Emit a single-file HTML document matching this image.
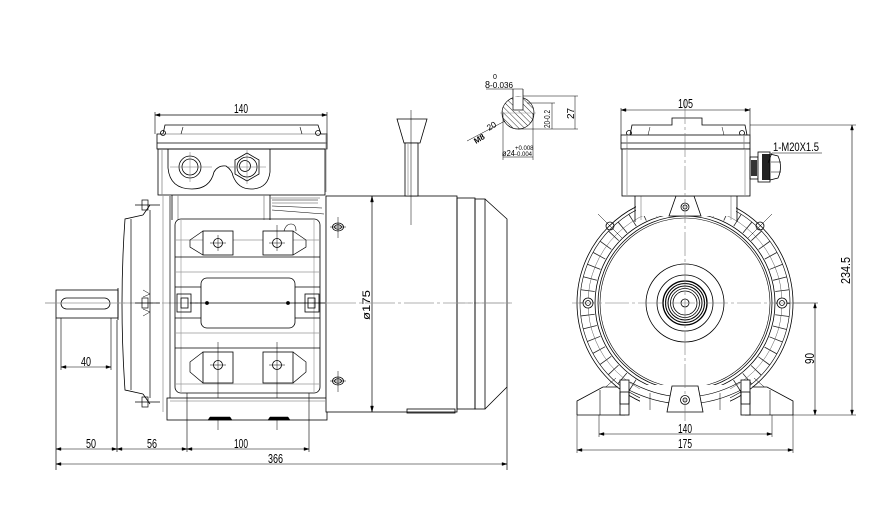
<!DOCTYPE html>
<html><head><meta charset="utf-8"><style>
html,body{margin:0;padding:0;background:#fff}
svg{display:block}
text{font-family:"Liberation Sans Narrow","Liberation Sans",sans-serif;fill:#000}
</style></head><body>
<svg width="879" height="513" viewBox="0 0 879 513" xmlns="http://www.w3.org/2000/svg">
<defs>
<pattern id="hatch" width="4" height="4" patternUnits="userSpaceOnUse" patternTransform="rotate(-45)">
<line x1="0" y1="0" x2="0" y2="4" stroke="#000" stroke-width="0.8"/>
</pattern>
<clipPath id="sec"><circle cx="518" cy="113" r="16"/></clipPath>
</defs>
<rect width="879" height="513" fill="#fff"/>

<!-- ============ LEFT (SIDE) VIEW ============ -->
<g fill="none" stroke="#000" stroke-width="0.8">
<line x1="45" y1="303" x2="513" y2="303" stroke="#999" stroke-dasharray="30 3 3 3"/>

<!-- 140 dim -->
<line x1="155" y1="115" x2="327" y2="115" stroke-width="0.7"/>
<line x1="155" y1="112" x2="155" y2="134" stroke-width="0.6"/>
<line x1="327" y1="112" x2="327" y2="134" stroke-width="0.6"/>
<!-- terminal box lid -->
<path d="M157 149 L157 134 L163 134 L165 125 L318 125 L321 134 L327 134 L327 149 Z"/>
<line x1="157" y1="143" x2="327" y2="143"/>
<line x1="163" y1="134" x2="321" y2="134" stroke="#888"/>
<line x1="183" y1="127" x2="181" y2="134" stroke-width="0.6"/>
<line x1="300" y1="127" x2="302" y2="134" stroke-width="0.6"/>
<circle cx="163" cy="133" r="2.5"/><circle cx="318" cy="133" r="2.5"/>
<!-- box body -->
<rect x="158" y="149" width="167" height="46"/>
<line x1="162" y1="149" x2="162" y2="195" stroke="#888"/>
<line x1="326" y1="135" x2="326" y2="192" stroke="#888"/>
<path d="M168 149 V168 Q170 189 192 189 Q210 189 214 172 Q218 165 226 166 Q232 170 233 176 Q238 189 251 189 Q268 189 270 172 V149"/>
<circle cx="190" cy="167" r="11"/><circle cx="190" cy="167" r="8"/>
<line x1="170" y1="167" x2="212" y2="167" stroke="#777" stroke-width="0.5"/>
<line x1="190" y1="152" x2="190" y2="182" stroke="#777" stroke-width="0.5"/>
<polygon points="247,153 259,160 259,174 247,181 235,174 235,160"/>
<circle cx="247" cy="167" r="10"/><circle cx="245" cy="166" r="5.5"/>
<line x1="228" y1="167" x2="266" y2="167" stroke="#777" stroke-width="0.5"/>
<line x1="247" y1="150" x2="247" y2="184" stroke="#777" stroke-width="0.5"/>
<!-- neck -->
<line x1="172" y1="195" x2="172" y2="220"/>
<line x1="178" y1="195" x2="178" y2="220" stroke="#888"/>
<line x1="270" y1="195" x2="270" y2="220"/>
<line x1="264" y1="195" x2="264" y2="220" stroke="#888"/>
<line x1="270" y1="198" x2="320" y2="198" stroke="#888"/>
<line x1="272" y1="200" x2="318" y2="200" stroke-width="0.6"/>
<line x1="272" y1="203" x2="318" y2="203" stroke="#888"/>
<line x1="272" y1="206" x2="322" y2="208" stroke-width="0.6"/>
<line x1="272" y1="210" x2="324" y2="214" stroke-width="0.6"/>
<line x1="326" y1="196" x2="326" y2="412" stroke="#999"/>

<!-- left shield -->
<path d="M143 215 L125 219 Q119 303 125 390 L143 394"/>
<line x1="131" y1="219" x2="131" y2="390" stroke-width="0.7"/>
<line x1="150" y1="210" x2="150" y2="398" stroke-width="0.7"/>
<line x1="163" y1="196" x2="163" y2="412" stroke="#999"/>
<line x1="170" y1="196" x2="170" y2="412" stroke-width="0.7"/>
<line x1="143" y1="215" x2="150" y2="205"/>
<line x1="143" y1="394" x2="150" y2="404"/>
<g stroke-width="0.7">
<rect x="142" y="200" width="6" height="10"/><line x1="135" y1="205" x2="160" y2="205"/>
<rect x="142" y="298" width="6" height="10"/><line x1="135" y1="303" x2="160" y2="303"/>
<rect x="142" y="397" width="6" height="10"/><line x1="135" y1="402" x2="160" y2="402"/>
<path d="M143 290 L150 294 L143 297" stroke-width="0.5"/>
<path d="M143 309 L150 312 L143 316" stroke-width="0.5"/>
</g>

<!-- frame -->
<rect x="175" y="219" width="145" height="174" rx="6"/>
<line x1="181" y1="219" x2="181" y2="393" stroke="#aaa"/>
<line x1="314" y1="219" x2="314" y2="393" stroke="#aaa"/>
<g stroke-width="0.7">
<line x1="175" y1="240" x2="320" y2="240" stroke="#999"/>
<line x1="175" y1="257" x2="320" y2="257"/>
<line x1="175" y1="272" x2="320" y2="272" stroke="#999"/>
<line x1="175" y1="287" x2="320" y2="287"/>
<line x1="175" y1="318" x2="320" y2="318"/>
<line x1="175" y1="333" x2="320" y2="333" stroke="#999"/>
<line x1="175" y1="348" x2="320" y2="348"/>
<line x1="175" y1="384" x2="320" y2="384" stroke="#999"/>
</g>
<!-- mount blocks top -->
<rect x="203" y="231" width="30" height="24" fill="#fff"/>
<rect x="263" y="231" width="30" height="24" fill="#fff"/>
<path d="M203 231 L190 240 L190 247 L203 255" stroke-width="0.7"/><path d="M293 231 L306 240 L306 247 L293 255" stroke-width="0.7"/>
<circle cx="218" cy="243" r="4.5"/><circle cx="277" cy="243" r="4.5"/>
<line x1="210" y1="243" x2="226" y2="243" stroke-width="0.5"/><line x1="218" y1="235" x2="218" y2="251" stroke-width="0.5"/>
<line x1="269" y1="243" x2="285" y2="243" stroke-width="0.5"/><line x1="277" y1="225" x2="277" y2="251" stroke-width="0.5"/>
<path d="M284 231 Q286 224 291 224 Q296 224 296 231" stroke-width="0.6"/>
<!-- mount blocks bottom -->
<rect x="203" y="352" width="30" height="31" fill="#fff"/>
<rect x="263" y="352" width="30" height="31" fill="#fff"/>
<path d="M203 352 L190 362 L190 372 L203 383" stroke-width="0.7"/><path d="M293 352 L306 362 L306 372 L293 383" stroke-width="0.7"/>
<circle cx="218" cy="365" r="4.5"/><circle cx="277" cy="365" r="4.5"/>
<line x1="210" y1="365" x2="226" y2="365" stroke-width="0.5"/>
<line x1="269" y1="365" x2="285" y2="365" stroke-width="0.5"/>
<line x1="218" y1="342" x2="218" y2="430" stroke-width="0.5"/>
<line x1="277" y1="342" x2="277" y2="430" stroke-width="0.5"/>
<!-- center terminal plate -->
<rect x="201" y="278" width="94" height="50" rx="6" fill="#fff"/>
<line x1="205" y1="303" x2="290" y2="303"/>
<circle cx="207" cy="303" r="1.5" fill="#000"/><circle cx="288" cy="303" r="1.5" fill="#000"/>
<!-- side brackets -->
<rect x="177" y="294" width="14" height="18"/><rect x="181" y="298" width="7" height="10"/>
<rect x="305" y="294" width="14" height="18"/><rect x="308" y="298" width="7" height="10"/>
<line x1="190" y1="303" x2="205" y2="303"/><line x1="290" y1="303" x2="325" y2="303"/>
<!-- feet -->
<rect x="167" y="398" width="160" height="22" fill="#fff"/>
<line x1="170" y1="401" x2="325" y2="401" stroke="#999"/>
<path d="M208 420 L210 417 L230 417 L232 420 Z" fill="#000" stroke-width="0.5"/>
<path d="M268 420 L270 417 L288 417 L290 420 Z" fill="#000" stroke-width="0.5"/>
<line x1="187" y1="393" x2="187" y2="452" stroke-width="0.6"/>
<line x1="309" y1="393" x2="309" y2="452" stroke-width="0.6"/>

<!-- right cylinder (fan cover) -->
<rect x="326" y="196" width="131" height="216" fill="#fff"/>
<line x1="372" y1="196" x2="372" y2="412" stroke-width="0.7"/>
<path d="M370.5 202 L372 196 L373.5 202 Z M370.5 406 L372 412 L373.5 406 Z" fill="#000" stroke-width="0.4"/>
<rect x="457" y="198" width="18" height="211"/>
<rect x="475" y="199" width="10" height="210"/>
<path d="M485 199 L507 219 L507 387 L485 409"/>
<line x1="326" y1="303" x2="513" y2="303" stroke="#999" stroke-dasharray="30 3 3 3"/>
<rect x="407" y="409" width="48" height="4"/>
<ellipse cx="338" cy="227" rx="5.5" ry="4"/><ellipse cx="338" cy="227" rx="3.5" ry="2.2"/>
<line x1="330" y1="227" x2="346" y2="227" stroke-width="0.5"/><line x1="338" y1="217" x2="338" y2="238" stroke-width="0.5"/>
<ellipse cx="338" cy="381" rx="5.5" ry="4"/><ellipse cx="338" cy="381" rx="3.5" ry="2.2"/>
<line x1="330" y1="381" x2="346" y2="381" stroke-width="0.5"/><line x1="338" y1="371" x2="338" y2="392" stroke-width="0.5"/>
<!-- lifting bolt -->
<polygon points="397,119 427,119 420,143 404,143" fill="#fff"/>
<rect x="405" y="143" width="13" height="53" fill="#fff"/>
<line x1="408" y1="143" x2="408" y2="196" stroke="#999"/>
<line x1="411" y1="110" x2="411" y2="225" stroke-width="0.5"/>

<!-- shaft -->
<rect x="56" y="290" width="62" height="28" fill="#fff"/>
<rect x="61" y="298" width="49" height="11" rx="5.5"/>
<line x1="118" y1="288" x2="118" y2="320"/>
<line x1="45" y1="303" x2="125" y2="303" stroke="#999"/>

<!-- bottom dimensions -->
<line x1="56" y1="318" x2="56" y2="470" stroke-width="0.7"/>
<line x1="117" y1="320" x2="117" y2="452" stroke-width="0.7"/>
<line x1="507" y1="387" x2="507" y2="470" stroke-width="0.7"/>
<line x1="61" y1="318" x2="61" y2="370" stroke-width="0.6"/>
<line x1="111" y1="318" x2="111" y2="370" stroke-width="0.6"/>
<line x1="61" y1="367" x2="111" y2="367" stroke-width="0.6"/>
<line x1="56" y1="449" x2="309" y2="449" stroke-width="0.6"/>
<line x1="56" y1="464" x2="507" y2="464" stroke-width="0.6"/>
<path d="M61 367 l5 -1.5 v3 z M111 367 l-5 -1.5 v3 z" fill="#000" stroke-width="0.4"/>
<path d="M56 449 l5 -1.5 v3 z M117 449 l-5 -1.5 v3 z M117 449 l5 -1.5 v3 z M187 449 l-5 -1.5 v3 z M187 449 l5 -1.5 v3 z M309 449 l-5 -1.5 v3 z" fill="#000" stroke-width="0.4"/>
<path d="M56 464 l5 -1.5 v3 z M507 464 l-5 -1.5 v3 z" fill="#000" stroke-width="0.4"/>
<path d="M155 115 l5 -1.5 v3 z M327 115 l-5 -1.5 v3 z" fill="#000" stroke-width="0.4"/>
</g>

<g font-size="12.5">
<text x="234" y="113" textLength="14" lengthAdjust="spacingAndGlyphs">140</text>
<text x="81" y="366" textLength="10" lengthAdjust="spacingAndGlyphs">40</text>
<text x="86" y="448" textLength="10" lengthAdjust="spacingAndGlyphs">50</text>
<text x="147" y="448" textLength="10" lengthAdjust="spacingAndGlyphs">56</text>
<text x="234" y="448" textLength="14" lengthAdjust="spacingAndGlyphs">100</text>
<text x="268" y="463" textLength="15" lengthAdjust="spacingAndGlyphs">366</text>
<text x="0" y="0" font-size="11" transform="translate(370,320) rotate(-90)" textLength="30" lengthAdjust="spacingAndGlyphs">ø175</text>
</g>

<!-- ============ SHAFT SECTION DETAIL ============ -->
<g fill="none" stroke="#000" stroke-width="0.7">
<circle cx="518" cy="113" r="16" fill="url(#hatch)" stroke="none" clip-path="url(#sec)"/>
<circle cx="518" cy="113" r="16"/>
<rect x="513" y="97" width="10" height="14" fill="#fff" stroke="none"/>
<line x1="513" y1="89" x2="513" y2="110"/><line x1="523" y1="89" x2="523" y2="110"/>
<line x1="513" y1="110" x2="523" y2="110"/>
<line x1="486" y1="89" x2="523" y2="89" stroke-width="0.6"/>
<line x1="500" y1="113" x2="536" y2="113" stroke="#999" stroke-width="0.6"/>
<line x1="523" y1="96" x2="578" y2="96" stroke-width="0.5"/>
<line x1="527" y1="103" x2="555" y2="103" stroke-width="0.5"/>
<line x1="518" y1="129" x2="578" y2="129" stroke-width="0.5"/>
<line x1="575" y1="96" x2="575" y2="129" stroke-width="0.5"/>
<line x1="552" y1="103" x2="552" y2="129" stroke-width="0.5"/>
<line x1="503" y1="113" x2="503" y2="160" stroke-width="0.5"/>
<line x1="533" y1="113" x2="533" y2="160" stroke-width="0.5"/>
<line x1="503" y1="157" x2="533" y2="157" stroke-width="0.5"/>
<line x1="467" y1="141" x2="505" y2="121" stroke-width="0.5"/>
</g>
<g font-size="8.5">
<text x="485" y="88" font-size="10" textLength="5" lengthAdjust="spacingAndGlyphs">8</text>
<text x="493" y="79" font-size="7">0</text>
<text x="490" y="88" font-size="8" textLength="23" lengthAdjust="spacingAndGlyphs">-0.036</text>
<text transform="translate(476,144) rotate(-32)" font-size="8" font-weight="bold">M8</text>
<text transform="translate(489,131) rotate(-32)" font-size="8.5">20</text>
<text transform="translate(574,119) rotate(-90)" font-size="10">27</text>
<text transform="translate(550,128) rotate(-90)" font-size="8" textLength="18" lengthAdjust="spacingAndGlyphs">20-0.2</text>
<text x="502" y="156" font-size="8" textLength="13" lengthAdjust="spacingAndGlyphs">ø24</text>
<text x="515" y="150" font-size="6">+0.008</text>
<text x="515" y="156" font-size="6">-0.004</text>
</g>

<!-- ============ RIGHT (END) VIEW ============ -->
<g fill="none" stroke="#000" stroke-width="0.8">
<circle cx="685" cy="303" r="108"/>
<circle cx="685" cy="303" r="105" stroke-width="0.6"/>
<circle cx="685" cy="303" r="98" stroke="#222" stroke-width="14" stroke-dasharray="0.8 11.5"/>
<circle cx="685" cy="303" r="97" stroke-width="0.5" stroke="#555"/>
<circle cx="685" cy="303" r="90" fill="#fff"/>
<circle cx="685" cy="303" r="87"/>
<circle cx="685" cy="303" r="85" stroke-width="0.6"/>
<!-- top neck -->
<rect x="636" y="196" width="100" height="20" fill="#fff" stroke="none"/>
<line x1="635" y1="196" x2="635" y2="222"/>
<line x1="641" y1="196" x2="641" y2="220" stroke="#999"/>
<line x1="737" y1="196" x2="737" y2="222"/>
<line x1="731" y1="196" x2="731" y2="220" stroke="#999"/>
<polygon points="676,196 694,196 701,216 669,216" fill="#fff"/>
<circle cx="685" cy="207" r="4"/><circle cx="685" cy="207" r="2"/>
<!-- hub -->
<circle cx="685" cy="303" r="39"/>
<circle cx="685" cy="303" r="28"/>
<circle cx="685" cy="303" r="22" stroke-width="1.3"/>
<circle cx="685" cy="303" r="19.5" stroke-width="1.1"/>
<circle cx="685" cy="303" r="17" stroke-width="1"/>
<circle cx="685" cy="303" r="14.5"/>
<circle cx="685" cy="303" r="12"/>
<circle cx="685" cy="303" r="4"/>
<!-- side bolts -->
<circle cx="588" cy="303" r="5" fill="#fff"/><circle cx="588" cy="303" r="2.5"/>
<circle cx="782" cy="303" r="5" fill="#fff"/><circle cx="782" cy="303" r="2.5"/>
<!-- diagonal bolts -->
<circle cx="610" cy="226" r="4"/><circle cx="760" cy="226" r="4"/>
<line x1="598" y1="214" x2="622" y2="238" stroke-width="0.5"/>
<line x1="772" y1="214" x2="748" y2="238" stroke-width="0.5"/>
<line x1="600" y1="392" x2="616" y2="378" stroke-width="0.5"/>
<line x1="770" y1="392" x2="754" y2="378" stroke-width="0.5"/>
<!-- bottom region -->
<rect x="640" y="385" width="90" height="30" fill="#fff" stroke="none"/>
<path d="M625 388 Q685 420 745 388" stroke-width="0.7"/>
<path d="M630 382 Q685 412 740 382" stroke-width="0.7"/>
<polygon points="672,386 698,386 703,412 667,412" fill="#fff"/>
<circle cx="685" cy="400" r="4.5"/><circle cx="685" cy="400" r="2"/>
<line x1="650" y1="393" x2="650" y2="410" stroke-width="0.5"/>
<line x1="720" y1="393" x2="720" y2="410" stroke-width="0.5"/>
<!-- feet -->
<path d="M577 415 L577 401 L603 387 L618 387" fill="#fff"/>
<line x1="577" y1="415" x2="625" y2="415"/>
<line x1="600" y1="390" x2="600" y2="415" stroke-width="0.6"/>
<rect x="620" y="380" width="9" height="35" fill="#fff"/>
<rect x="620" y="392" width="9" height="12"/>
<path d="M793 415 L793 401 L767 387 L752 387" fill="#fff"/>
<line x1="745" y1="415" x2="793" y2="415"/>
<line x1="770" y1="390" x2="770" y2="415" stroke-width="0.6"/>
<rect x="741" y="380" width="9" height="35" fill="#fff"/>
<rect x="741" y="392" width="9" height="12"/>

<!-- terminal box -->
<line x1="621" y1="108" x2="621" y2="135" stroke-width="0.6"/>
<line x1="750" y1="108" x2="750" y2="135" stroke-width="0.6"/>
<line x1="621" y1="110" x2="750" y2="110" stroke-width="0.6"/>
<path d="M621 110 l5 -1.5 v3 z M750 110 l-5 -1.5 v3 z" fill="#000" stroke-width="0.4"/>
<path d="M630 135 L632 125 L672 125 L672 118 L702 118 L702 125 L745 125 L747 135" fill="#fff"/>
<line x1="650" y1="127" x2="648" y2="135" stroke-width="0.5"/>
<line x1="722" y1="127" x2="724" y2="135" stroke-width="0.5"/>
<circle cx="629" cy="133" r="2.5"/><circle cx="742" cy="133" r="2.5"/>
<rect x="621" y="135" width="129" height="14" fill="#fff"/>
<line x1="621" y1="143" x2="750" y2="143"/>
<line x1="627" y1="135" x2="627" y2="149" stroke="#888"/>
<line x1="744" y1="135" x2="744" y2="149" stroke="#888"/>
<rect x="622" y="149" width="128" height="47" fill="#fff"/>
<line x1="627" y1="149" x2="627" y2="196" stroke="#999"/>
<line x1="745" y1="149" x2="745" y2="196" stroke="#999"/>
<!-- gland -->
<rect x="750" y="157" width="8" height="22"/>
<rect x="751" y="160" width="6" height="16" fill="#333" stroke="none"/>
<rect x="758" y="152" width="12" height="30" fill="#fff"/>
<rect x="762" y="154" width="8" height="26" fill="#222" stroke="none"/>
<path d="M770 154 L778 156 Q783 167 778 178 L770 180 Z" fill="#fff"/>
<line x1="771" y1="162" x2="781" y2="162" stroke-width="0.5"/>
<line x1="771" y1="172" x2="781" y2="172" stroke-width="0.5"/>
<line x1="772" y1="153" x2="822" y2="153" stroke-width="0.6"/>
<line x1="772" y1="153" x2="768" y2="163" stroke-width="0.6"/>
<!-- extension & dims -->
<line x1="750" y1="125" x2="856" y2="125" stroke-width="0.5"/>
<line x1="793" y1="415" x2="856" y2="415" stroke-width="0.5"/>
<line x1="793" y1="303" x2="818" y2="303" stroke-width="0.5"/>
<line x1="852" y1="125" x2="852" y2="415" stroke-width="0.6"/>
<line x1="815" y1="303" x2="815" y2="415" stroke-width="0.6"/>
<path d="M852 125 l-1.5 5 h3 z M852 415 l-1.5 -5 h3 z M815 303 l-1.5 5 h3 z M815 415 l-1.5 -5 h3 z" fill="#000" stroke-width="0.4"/>
<line x1="599" y1="415" x2="599" y2="437" stroke-width="0.5"/>
<line x1="772" y1="415" x2="772" y2="437" stroke-width="0.5"/>
<line x1="577" y1="415" x2="577" y2="453" stroke-width="0.5"/>
<line x1="793" y1="415" x2="793" y2="453" stroke-width="0.5"/>
<line x1="599" y1="434" x2="772" y2="434" stroke-width="0.6"/>
<line x1="577" y1="450" x2="793" y2="450" stroke-width="0.6"/>
<path d="M599 434 l5 -1.5 v3 z M772 434 l-5 -1.5 v3 z M577 450 l5 -1.5 v3 z M793 450 l-5 -1.5 v3 z" fill="#000" stroke-width="0.4"/>
<line x1="685" y1="100" x2="685" y2="425" stroke="#777" stroke-width="0.6" stroke-dasharray="24 3 3 3"/>
<line x1="572" y1="303" x2="800" y2="303" stroke="#777" stroke-width="0.6" stroke-dasharray="24 3 3 3"/>
</g>

<g font-size="12.5">
<text x="678" y="108" textLength="15" lengthAdjust="spacingAndGlyphs">105</text>
<text x="773" y="151" font-size="11.5" textLength="46" lengthAdjust="spacingAndGlyphs">1-M20X1.5</text>
<text x="678" y="433" textLength="14" lengthAdjust="spacingAndGlyphs">140</text>
<text x="678" y="448" textLength="14" lengthAdjust="spacingAndGlyphs">175</text>
<text transform="translate(850,284) rotate(-90)" textLength="27" lengthAdjust="spacingAndGlyphs">234.5</text>
<text transform="translate(814,364) rotate(-90)" textLength="11" lengthAdjust="spacingAndGlyphs">90</text>
</g>
</svg>
</body></html>
